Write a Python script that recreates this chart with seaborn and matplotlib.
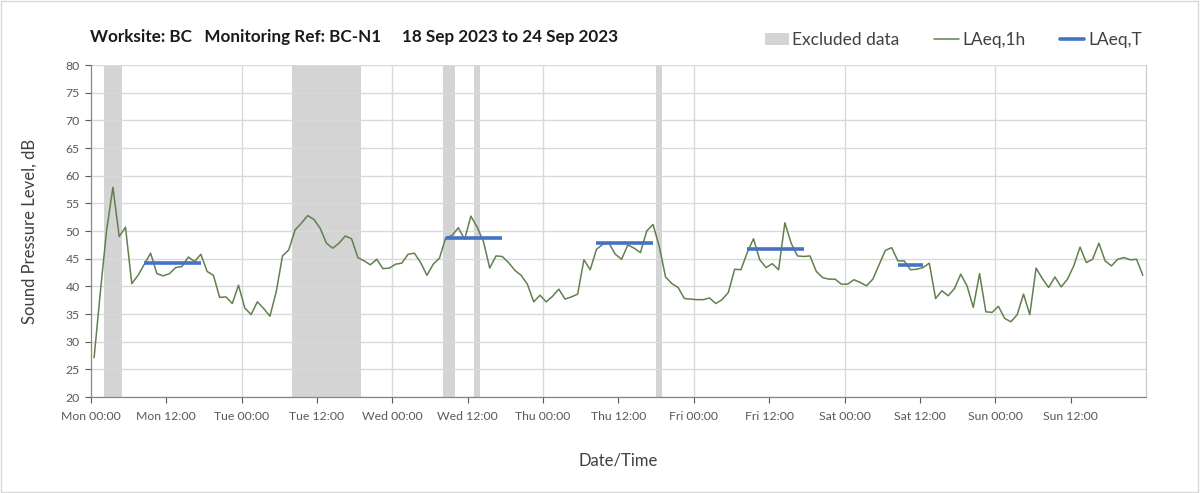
import pandas as pd
import matplotlib
matplotlib.use("Agg")
import matplotlib.pyplot as plt
from matplotlib.patches import Patch, Rectangle
from matplotlib.lines import Line2D
import seaborn as sns

# hourly LAeq,1h levels, Mon 18 Sep 00:00 -> Sun 24 Sep 23:00
laeq_1h = [
    27.1, 39.0, 50.2, 57.9, 49.0, 50.7, 40.5, 42.0, 44.0, 46.0, 42.3, 41.9,
    42.3, 43.4, 43.6, 45.3, 44.5, 45.8, 42.7, 42.0, 38.0, 38.1, 36.9, 40.2,
    36.1, 34.9, 37.2, 36.0, 34.6, 39.0, 45.5, 46.6, 50.2, 51.4, 52.8, 52.1,
    50.5, 47.8, 46.9, 47.8, 49.1, 48.6, 45.2, 44.6, 43.9, 44.9, 43.2, 43.3,
    44.0, 44.2, 45.8, 46.0, 44.3, 42.0, 44.0, 45.1, 48.8, 49.2, 50.6, 48.5,
    52.7, 50.7, 48.1, 43.3, 45.5, 45.4, 44.3, 42.9, 42.0, 40.4, 37.2, 38.4,
    37.2, 38.2, 39.5, 37.7, 38.1, 38.6, 44.8, 43.0, 46.7, 47.6, 47.8, 45.8,
    44.9, 47.5, 46.9, 46.1, 50.0, 51.2, 47.2, 41.7, 40.5, 39.8, 37.8, 37.7,
    37.6, 37.6, 37.9, 36.9, 37.6, 38.9, 43.1, 43.0, 46.1, 48.6, 44.8, 43.4,
    44.1, 43.0, 51.5, 47.8, 45.5, 45.4, 45.5, 42.7, 41.6, 41.3, 41.3, 40.4,
    40.4, 41.2, 40.7, 40.1, 41.3, 43.9, 46.5, 47.0, 44.6, 44.6, 43.0, 43.1,
    43.4, 44.2, 37.8, 39.2, 38.3, 39.6, 42.2, 40.1, 36.2, 42.3, 35.4, 35.3,
    36.4, 34.2, 33.6, 34.9, 38.6, 34.9, 43.3, 41.4, 39.8, 41.7, 39.9, 41.3,
    43.7, 47.1, 44.3, 44.9, 47.8, 44.6, 43.7, 44.9, 45.2, 44.8, 44.9, 42.0,
]

# excluded periods (hours from Mon 00:00)
excl_start_h = [2, 32, 56, 61, 90]
excl_end_h = [5, 43, 58, 62, 91]

# LAeq,T periods: first hour, last hour, level
laeqT_first_h = [8, 56, 80, 104, 128]
laeqT_last_h = [17, 65, 89, 113, 132]
laeqT_level = [44.2, 48.8, 47.8, 46.8, 43.9]

tick_labels = ["Mon 00:00", "Mon 12:00", "Tue 00:00", "Tue 12:00", "Wed 00:00",
               "Wed 12:00", "Thu 00:00", "Thu 12:00", "Fri 00:00", "Fri 12:00",
               "Sat 00:00", "Sat 12:00", "Sun 00:00", "Sun 12:00"]

start = pd.Timestamp("2023-09-18 00:00")
hour = pd.Timedelta(hours=1)
half = pd.Timedelta(minutes=30)

df = pd.DataFrame({
    "time": pd.date_range(start + half, periods=len(laeq_1h), freq="h"),
    "level": laeq_1h,
})

sns.set_style("white")
plt.rcParams["font.family"] = ["Lato", "DejaVu Sans"]

green = "#61804f"
blue = "#4472C4"
band = "#d4d4d4"
grid = "#d9d9d9"
txt = "#404040"

fig = plt.figure(figsize=(12.03, 4.93), dpi=100)
ax = fig.add_axes([0.0756, 0.1947, 0.877, 0.6733])

for s, e in zip(excl_start_h, excl_end_h):
    ax.axvspan(start + s * hour, start + e * hour, color=band, lw=0, zorder=0.3)

for d in range(1, 7):
    ax.axvline(start + pd.Timedelta(days=d), color=grid, lw=1, zorder=0.5)

sns.lineplot(data=df, x="time", y="level", ax=ax, color=green, lw=1.1, zorder=3)

for a, b, v in zip(laeqT_first_h, laeqT_last_h, laeqT_level):
    ax.hlines(v, start + a * hour + half, start + b * hour + half,
              color=blue, lw=2.6, zorder=4)

ax.set_ylim(20, 80)
ax.set_yticks(range(20, 81, 5))
ax.set_xlim(start, start + pd.Timedelta(days=7))
ax.set_xticks([start + 12 * k * hour for k in range(len(tick_labels))])
ax.set_xticklabels(tick_labels)
ax.yaxis.grid(True, color=grid, lw=1)
ax.set_axisbelow(True)

ax.tick_params(axis="both", labelsize=8.8, colors="#595959", length=4,
               width=0.8, direction="out", bottom=True, left=True, pad=4)
ax.tick_params(axis="x", pad=6)
for side in ["left", "bottom"]:
    ax.spines[side].set_color("#868686")
    ax.spines[side].set_linewidth(0.9)
ax.spines["right"].set_color("#c8c8c8")
ax.spines["top"].set_visible(False)

ax.set_xlabel("Date/Time", fontsize=12, color=txt, labelpad=22)
ax.set_ylabel("Sound Pressure Level, dB", fontsize=12, color=txt, labelpad=20)

fig.text(0.0748, 0.925, "Worksite: BC   Monitoring Ref: BC-N1     18 Sep 2023 to 24 Sep 2023",
         fontsize=12.3, fontweight="bold", color="#1a1a1a", va="center", ha="left")

handles = [Patch(facecolor=band, edgecolor="none"),
           Line2D([], [], color=green, lw=1.1),
           Line2D([], [], color=blue, lw=2.6)]
fig.legend(handles, ["Excluded data", "LAeq,1h", "LAeq,T"], ncol=3, frameon=False,
           loc="center right", bbox_to_anchor=(0.962, 0.919), fontsize=12.5,
           handlelength=1.4, handletextpad=0.2, columnspacing=2.0,
           labelcolor=txt)

fig.patches.append(Rectangle((0.001, 0.002), 0.995, 0.996, transform=fig.transFigure,
                             fill=False, edgecolor="#d9d9d9", lw=1))

fig.savefig("out.png", dpi=100)
